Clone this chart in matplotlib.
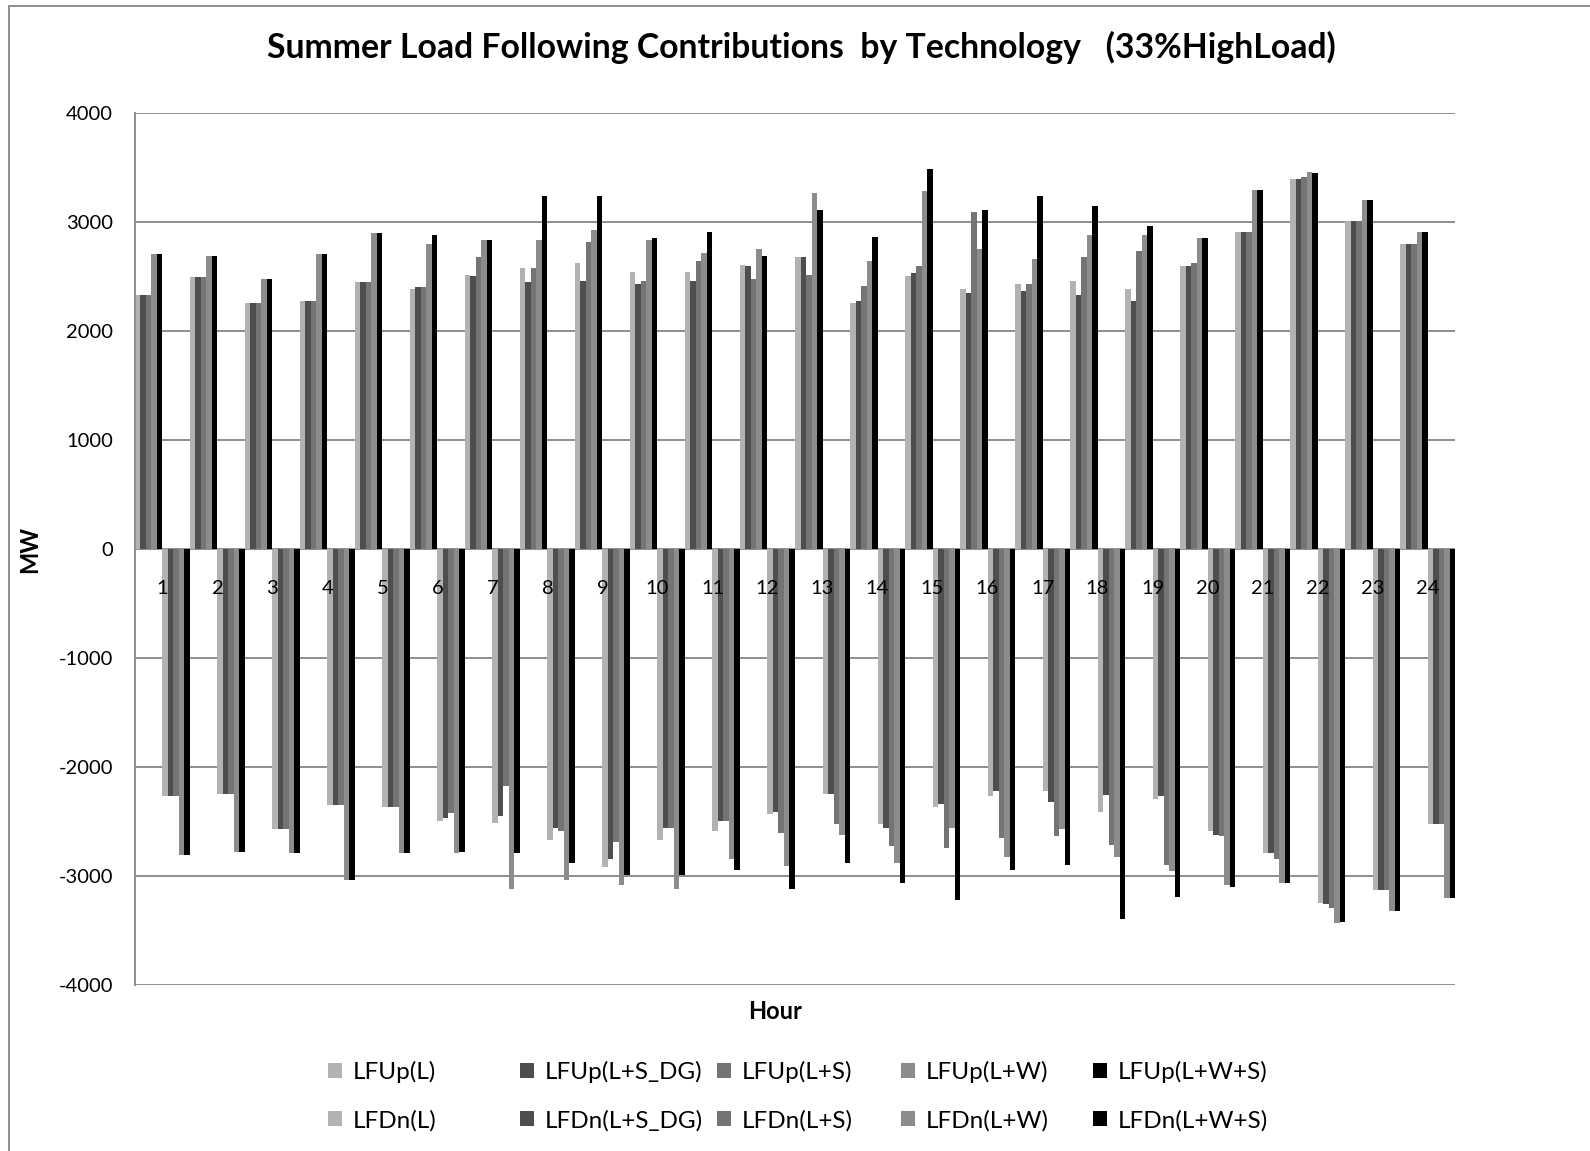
import matplotlib.pyplot as plt
from matplotlib.lines import Line2D
from matplotlib.patches import Patch
import numpy as np

plt.rcParams['font.family'] = ['Lato', 'DejaVu Sans']
plt.rcParams['axes.unicode_minus'] = False

horas = [str(h) for h in range(1, 25)]

# Contribuciones hacia arriba (MW)
up_L = [2330, 2500, 2265, 2275, 2450, 2385, 2520, 2585, 2630, 2545, 2545, 2610,
        2680, 2265, 2505, 2385, 2435, 2465, 2385, 2600, 2915, 3400, 3015, 2805]
up_L_SDG = [2330, 2500, 2265, 2275, 2450, 2405, 2505, 2450, 2465, 2435, 2465, 2600,
            2680, 2280, 2540, 2355, 2375, 2330, 2275, 2600, 2915, 3400, 3015, 2805]
up_L_S = [2330, 2500, 2265, 2275, 2450, 2405, 2680, 2585, 2820, 2465, 2645, 2485,
          2520, 2420, 2600, 3095, 2435, 2680, 2740, 2630, 2915, 3415, 3015, 2805]
up_L_W = [2710, 2695, 2485, 2710, 2900, 2805, 2840, 2840, 2935, 2840, 2720, 2760,
          3270, 2645, 3285, 2760, 2660, 2885, 2885, 2855, 3300, 3460, 3205, 2915]
up_L_W_S = [2710, 2695, 2485, 2710, 2900, 2885, 2840, 3240, 3240, 2855, 2915, 2695,
            3110, 2870, 3490, 3110, 3240, 3155, 2965, 2855, 3300, 3450, 3205, 2915]

# Contribuciones hacia abajo (MW)
dn_L = [-2265, -2250, -2570, -2350, -2365, -2490, -2510, -2670, -2920, -2670, -2585, -2430,
        -2250, -2525, -2365, -2265, -2215, -2410, -2295, -2585, -2790, -3250, -3130, -2525]
dn_L_SDG = [-2265, -2250, -2570, -2350, -2365, -2470, -2445, -2555, -2840, -2555, -2495, -2415,
            -2250, -2555, -2335, -2215, -2320, -2255, -2265, -2620, -2790, -3255, -3130, -2525]
dn_L_S = [-2265, -2250, -2570, -2350, -2365, -2425, -2170, -2585, -2685, -2555, -2495, -2600,
          -2525, -2725, -2740, -2655, -2630, -2715, -2895, -2635, -2840, -3295, -3130, -2525]
dn_L_W = [-2805, -2775, -2790, -3035, -2790, -2790, -3115, -3035, -3085, -3115, -2845, -2905,
          -2620, -2880, -2555, -2825, -2570, -2825, -2955, -3085, -3065, -3435, -3320, -3205]
dn_L_W_S = [-2805, -2775, -2790, -3035, -2790, -2775, -2790, -2880, -2990, -2990, -2945, -3120,
            -2880, -3065, -3220, -2945, -2895, -3390, -3190, -3100, -3065, -3420, -3320, -3205]

nombres = ["LFUp(L)", "LFUp(L+S_DG)", "LFUp(L+S)", "LFUp(L+W)", "LFUp(L+W+S)",
           "LFDn(L)", "LFDn(L+S_DG)", "LFDn(L+S)", "LFDn(L+W)", "LFDn(L+W+S)"]
series = [up_L, up_L_SDG, up_L_S, up_L_W, up_L_W_S,
          dn_L, dn_L_SDG, dn_L_S, dn_L_W, dn_L_W_S]
grises = ['#b2b2b2', '#4e4e4e', '#747474', '#8c8c8c', '#000000']
colores = grises + grises

fig = plt.figure(figsize=(15.9, 11.51), dpi=100)
ax = fig.add_axes([0.0849, 0.1442, 0.8302, 0.7572])

x = np.arange(len(horas))
ancho = 0.1
for i, (vals, nombre, color) in enumerate(zip(series, nombres, colores)):
    ax.bar(x - 0.45 + i * ancho, vals, ancho, color=color, label=nombre, zorder=2)

ax.set_xlim(-0.5, len(horas) - 0.5)
ax.set_ylim(-4000, 4000)
ax.set_yticks(range(-4000, 4001, 1000))
ax.yaxis.grid(True, color='#8e8e8e', linewidth=1.4)
ax.set_axisbelow(True)
ax.tick_params(axis='y', length=0, pad=16, labelsize=14.5)

# Etiquetas de hora justo debajo del cero, por encima de las barras
ax.set_xticks(x)
ax.set_xticklabels(horas)
ax.spines['bottom'].set_position(('data', 0))
ax.spines['bottom'].set_visible(False)
ax.tick_params(axis='x', length=0, pad=22, labelsize=14.5)
ax.xaxis.set_zorder(3)

for lado in ['top', 'right']:
    ax.spines[lado].set_visible(False)
ax.spines['left'].set_color('#8e8e8e')
ax.spines['left'].set_linewidth(1.4)

ax.text(-0.0795, 0.5, "MW", transform=ax.transAxes, rotation=90,
        ha='center', va='center', fontsize=17, fontweight='bold')
fig.text(0.4874, 0.1216, "Hour", ha='center', va='center', fontsize=17, fontweight='bold')
fig.text(0.504, 0.959, "Summer Load Following Contributions  by Technology   (33%HighLoad)",
         ha='center', va='center', fontsize=24.3, fontweight='bold')

# Leyenda: una columna por tecnología
handles = [Patch(facecolor=c) for c in colores]
col_x = [333, 525, 722, 906, 1098]
for j in range(5):
    fig.legend([handles[j], handles[j + 5]], [nombres[j], nombres[j + 5]],
               loc='upper left', bbox_to_anchor=(col_x[j] / 1590 - 0.003, 1 - 1061 / 1151),
               frameon=False, fontsize=17.5, handlelength=0.55, handleheight=0.55,
               handletextpad=0.45, labelspacing=1.1, borderpad=0, borderaxespad=0)

# Marco exterior del gráfico
fig.add_artist(Line2D([0.0057, 0.0057], [0, 0.9948], color='#8e8e8e', lw=1.4))
fig.add_artist(Line2D([0.0057, 1], [0.9948, 0.9948], color='#8e8e8e', lw=1.4))

plt.savefig("out.png")
